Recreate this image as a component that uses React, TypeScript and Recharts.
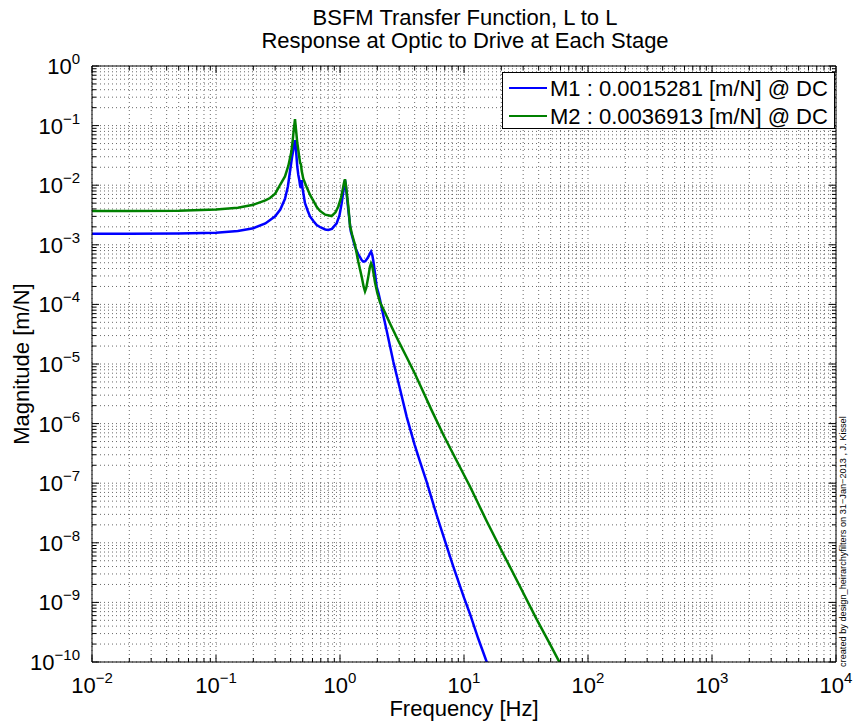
import React from 'react';
import { LineChart, Line, XAxis, YAxis, CartesianGrid } from 'recharts';

// ---- data ----
const freqM1 = [0.01, 0.02, 0.05, 0.1, 0.15, 0.2, 0.25, 0.3, 0.33, 0.36, 0.38, 0.395, 0.41, 0.42, 0.428, 0.4336, 0.438, 0.445, 0.4523, 0.4609, 0.4696, 0.476, 0.482, 0.487, 0.491, 0.497, 0.506, 0.522, 0.55, 0.573, 0.61, 0.649, 0.7, 0.76, 0.804, 0.86, 0.94, 0.99, 1.032, 1.065, 1.085, 1.097, 1.11, 1.13, 1.1665, 1.22, 1.27, 1.32, 1.4, 1.45, 1.5, 1.542, 1.6, 1.68, 1.74, 1.78, 1.82, 1.856, 1.915, 1.977, 2.05, 2.102, 2.2, 2.38, 2.69, 3.047, 3.451, 4.0, 4.418, 5.0, 6.024, 7.0, 8.2, 10.0, 11.18, 13.0, 15.25, 16.0];
const magM1 = [0.001528, 0.00153, 0.00155, 0.0016, 0.00171, 0.0019, 0.00228, 0.003, 0.0039, 0.0059, 0.0095, 0.017, 0.029, 0.039, 0.05, 0.057, 0.05, 0.032, 0.0204, 0.015, 0.0122, 0.01, 0.009, 0.0115, 0.0122, 0.0092, 0.0074, 0.005, 0.0037, 0.003, 0.0025, 0.00215, 0.00195, 0.00181, 0.00177, 0.00185, 0.0023, 0.0031, 0.005, 0.008, 0.0108, 0.0122, 0.0105, 0.0072, 0.0039, 0.0017, 0.00125, 0.00093, 0.0007, 0.00062, 0.00055, 0.00052, 0.00053, 0.00061, 0.00071, 0.00077, 0.00068, 0.00054, 0.00033, 0.000198, 0.00015, 0.00012, 0.000076, 0.000036, 0.000011, 0.0000038, 0.0000013, 0.00000044, 0.00000023, 0.000000105, 0.000000029, 0.000000011, 0.000000004, 0.0000000012, 0.00000000064, 0.00000000025, 0.0000000001, 0.000000000076];

const freqM2 = [0.01, 0.02, 0.05, 0.1, 0.15, 0.2, 0.25, 0.2726, 0.3, 0.328, 0.36, 0.383, 0.405, 0.415, 0.425, 0.4336, 0.442, 0.452, 0.461, 0.47, 0.477, 0.484, 0.491, 0.505, 0.539, 0.575, 0.609, 0.65, 0.69, 0.76, 0.857, 0.92, 0.969, 1.02, 1.052, 1.075, 1.097, 1.12, 1.14, 1.1665, 1.204, 1.25, 1.321, 1.405, 1.496, 1.55, 1.591, 1.63, 1.7, 1.74, 1.78, 1.82, 1.87, 1.915, 2.0, 2.102, 2.3, 2.531, 3.0, 3.451, 4.0, 4.697, 5.5, 6.404, 6.81, 8.46, 11.18, 15.25, 20.75, 28.29, 38.57, 49.38, 60];
const magM2 = [0.003691, 0.003695, 0.00374, 0.0039, 0.00418, 0.0047, 0.00555, 0.0061, 0.0072, 0.01, 0.014, 0.021, 0.036, 0.055, 0.09, 0.128, 0.085, 0.052, 0.039, 0.029, 0.0235, 0.0225, 0.0175, 0.013, 0.0092, 0.0068, 0.0055, 0.0043, 0.0037, 0.0032, 0.00304, 0.0035, 0.0044, 0.0062, 0.0085, 0.0108, 0.0126, 0.0095, 0.0068, 0.0044, 0.0021, 0.0015, 0.001, 0.00052, 0.00029, 0.0002, 0.000165, 0.00019, 0.00031, 0.00042, 0.00049, 0.00044, 0.00032, 0.000235, 0.000155, 0.000108, 0.000074, 0.000048, 0.000023, 0.000013, 0.000007, 0.0000034, 0.00000165, 0.00000085, 0.00000065, 0.00000027, 0.000000088, 0.000000023, 0.0000000065, 0.00000000185, 0.00000000052, 0.0000000002, 0.000000000092];

const xMajorTicks = [0.01, 0.1, 1, 10, 100, 1000, 10000];
const yMajorTicks = [1e-10, 1e-9, 1e-8, 1e-7, 1e-6, 1e-5, 1e-4, 1e-3, 1e-2, 1e-1, 1];
const minorMultipliers = [2, 3, 4, 5, 6, 7, 8, 9];

const titleLines = ['BSFM Transfer Function, L to L', 'Response at Optic to Drive at Each Stage'];
const seriesNames = ['M1 : 0.0015281 [m/N] @ DC', 'M2 : 0.0036913 [m/N] @ DC'];
const seriesColors = ['#0000ff', '#008000'];
const xLabel = 'Frequency [Hz]';
const yLabel = 'Magnitude [m/N]';
const credit = 'created by design_heirarchyfilters on 31\u2212Jan\u22122013 , J. Kissel';

// ---- helpers ----
const withMinor = (majors: number[]) => {
  const out: number[] = [];
  majors.forEach((d, i) => {
    out.push(d);
    if (i < majors.length - 1) minorMultipliers.forEach((m) => out.push(Number((d * m).toPrecision(10))));
  });
  return out;
};
const xTicks = withMinor(xMajorTicks);
const yTicks = withMinor(yMajorTicks);

const m1Data = freqM1.map((f, i) => ({ f, m: magM1[i] }));
const m2Data = freqM2.map((f, i) => ({ f, m: magM2[i] }));

const FONT = '"Liberation Sans", Arial, Helvetica, sans-serif';
const MAJOR_LEN = 7;
const MINOR_LEN = 4;

const isMajor = (v: number) => {
  const l = Math.log10(v);
  return Math.abs(l - Math.round(l)) < 1e-6;
};
const expText = (v: number) => {
  const e = Math.round(Math.log10(v));
  return e < 0 ? '\u2212' + Math.abs(e) : String(e);
};

const BottomTick = (p: any) => {
  const { x, y, payload } = p;
  const v = payload.value;
  const major = isMajor(v);
  return (
    <g>
      <line x1={x} x2={x} y1={y} y2={y - (major ? MAJOR_LEN : MINOR_LEN)} stroke="#000" strokeWidth={1} />
      {major && (
        <text x={x} y={y + 31} textAnchor="middle" fontFamily={FONT} fontSize={22} fill="#000">
          10<tspan dy={-10} fontSize={15}>{expText(v)}</tspan>
        </text>
      )}
    </g>
  );
};
const TopTick = (p: any) => {
  const { x, y, payload } = p;
  const major = isMajor(payload.value);
  return <line x1={x} x2={x} y1={y} y2={y + (major ? MAJOR_LEN : MINOR_LEN)} stroke="#000" strokeWidth={1} />;
};
const LeftTick = (p: any) => {
  const { x, y, payload } = p;
  const v = payload.value;
  const major = isMajor(v);
  return (
    <g>
      <line x1={x} x2={x + (major ? MAJOR_LEN : MINOR_LEN)} y1={y} y2={y} stroke="#000" strokeWidth={1} />
      {major && (
        <text x={x - 12} y={y + 8} textAnchor="end" fontFamily={FONT} fontSize={22} fill="#000">
          10<tspan dy={-10} fontSize={15}>{expText(v)}</tspan>
        </text>
      )}
    </g>
  );
};
const RightTick = (p: any) => {
  const { x, y, payload } = p;
  const major = isMajor(payload.value);
  return <line x1={x} x2={x - (major ? MAJOR_LEN : MINOR_LEN)} y1={y} y2={y} stroke="#000" strokeWidth={1} />;
};

export default function App() {
  const xAxisCommon = {
    type: 'number' as const,
    scale: 'log' as const,
    domain: [0.01, 10000],
    allowDataOverflow: true,
    ticks: xTicks,
    interval: 0,
    tickSize: 0,
    tickMargin: 0,
    tickLine: false,
    axisLine: { stroke: '#000', strokeWidth: 1 },
    dataKey: 'f',
  };
  const yAxisCommon = {
    type: 'number' as const,
    scale: 'log' as const,
    domain: [1e-10, 1],
    allowDataOverflow: true,
    ticks: yTicks,
    interval: 0,
    tickSize: 0,
    tickMargin: 0,
    tickLine: false,
    axisLine: { stroke: '#000', strokeWidth: 1 },
  };
  return (
    <div style={{ position: 'relative', width: 859, height: 725, background: '#fff', fontFamily: FONT }}>
      <style>{'body{margin:0;background:#fff}'}</style>
      <LineChart width={859} height={725} margin={{ top: 65, right: 22, bottom: 23, left: 32 }}>
        <CartesianGrid
          xAxisId="b"
          yAxisId="l"
          verticalValues={xTicks}
          horizontalValues={yTicks}
          stroke="#444"
          strokeWidth={0.8}
          strokeDasharray="1 3"
        />
        <XAxis xAxisId="b" orientation="bottom" height={40} {...xAxisCommon} tick={(p: any) => <BottomTick {...p} />} />
        <XAxis xAxisId="t" orientation="top" height={1} {...xAxisCommon} tick={(p: any) => <TopTick {...p} />} />
        <YAxis yAxisId="l" orientation="left" width={60} {...yAxisCommon} tick={(p: any) => <LeftTick {...p} />} />
        <YAxis yAxisId="r" orientation="right" width={1} {...yAxisCommon} tick={(p: any) => <RightTick {...p} />} />
        <Line xAxisId="b" yAxisId="l" data={m1Data} dataKey="m" type="linear" stroke={seriesColors[0]} strokeWidth={2.5} dot={false} activeDot={false} isAnimationActive={false} name={seriesNames[0]} />
        <Line xAxisId="b" yAxisId="l" data={m2Data} dataKey="m" type="linear" stroke={seriesColors[1]} strokeWidth={2.5} dot={false} activeDot={false} isAnimationActive={false} name={seriesNames[1]} />
      </LineChart>
      <svg width={859} height={725} style={{ position: 'absolute', left: 0, top: 0, pointerEvents: 'none' }}>
        <g fontFamily={FONT} fill="#000">
          <text x={465} y={25} textAnchor="middle" fontSize={22}>{titleLines[0]}</text>
          <text x={465} y={48} textAnchor="middle" fontSize={22}>{titleLines[1]}</text>
          <text x={464} y={716} textAnchor="middle" fontSize={22}>{xLabel}</text>
          <text x={29} y={364} textAnchor="middle" fontSize={22} transform="rotate(-90 29 364)">{yLabel}</text>
          <text x={846} y={667} textAnchor="start" fontSize={9.2} transform="rotate(-90 846 667)">{credit}</text>
        </g>
        <g>
          <rect x={502.5} y={72.5} width={332} height={56} fill="#fff" stroke="#000" strokeWidth={1} />
          {seriesNames.map((n, i) => (
            <g key={n}>
              <line x1={509} x2={547} y1={88 + i * 28} y2={88 + i * 28} stroke={seriesColors[i]} strokeWidth={2} />
              <text x={550} y={96 + i * 28} fontFamily={FONT} fontSize={22} fill="#000">{n}</text>
            </g>
          ))}
        </g>
      </svg>
    </div>
  );
}
